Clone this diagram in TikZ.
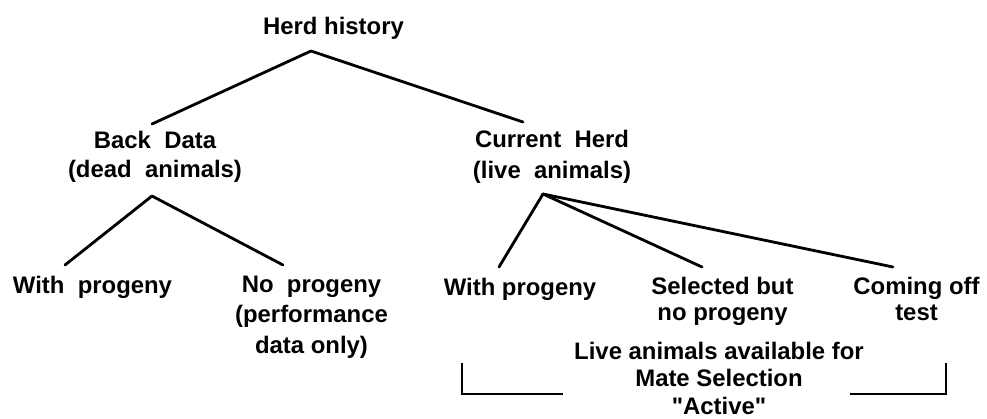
\documentclass[tikz,border=0pt]{standalone}
\usepackage{fontspec}
\setmainfont{Liberation Sans}
\usetikzlibrary{positioning}

\begin{document}
\begin{tikzpicture}
[x=0.02cm,y=-0.02cm,
  lineDecorate/.style={-,line width=1.6pt,line cap=round},%
  nodeDecorate/.style={align=center,inner sep=0pt,anchor=base}]
\useasboundingbox (0,0) rectangle (987,419);
%% nodes or texts (y is the baseline of the last line)
\foreach \nodename/\x/\y/\lead/\txt in {
  herd/333.5/34/16/{Herd history},
  back/155/177/16.5/{Back\ \ Data\\(dead\ \ animals)},
  current/552/178/17.6/{Current\ \ Herd\\(live\ \ animals)},
  lwith/92.5/293/16/{With\ \ progeny},
  lno/311.5/353/17.1/{No\ \ progeny\\(performance\\data only)},
  rwith/520/295/16/{With progeny},
  selected/722.5/320/14.3/{Selected but\\no progeny},
  coming/916.5/320/14.3/{Coming off\\test},
  live/719/414/15.6/{Live animals available for\\Mate Selection\\\textquotedbl Active\textquotedbl}}
{
  \node (\nodename) at (\x,\y) [nodeDecorate,
    font=\bfseries\fontsize{13.6}{\lead}\selectfont] {\txt};
}
%% joints and line ends
\foreach \pname/\x/\y in {
  herdfork/311/51, backtop/152/124, currtop/523/122,
  backfork/152/196, lwithtop/65/265, lnotop/283/265,
  currfork/543/194, rwithtop/499/267, seltop/702/267, comtop/893/267,
  bla/462/363, blb/462/394, blc/563/394,
  bra/946/363, brb/946/394, brc/850/394}
{
  \coordinate (\pname) at (\x,\y);
}
%% lines
\foreach \startnode/\endnode in {herdfork/backtop, herdfork/currtop,
  backfork/lwithtop, backfork/lnotop,
  currfork/rwithtop, currfork/seltop, currfork/comtop}
{
  \draw[lineDecorate] (\startnode) -- (\endnode);
}
\draw[lineDecorate,line cap=butt] (bla) -- (blb) -- (blc);
\draw[lineDecorate,line cap=butt] (brc) -- (brb) -- (bra);
\end{tikzpicture}
\end{document}
